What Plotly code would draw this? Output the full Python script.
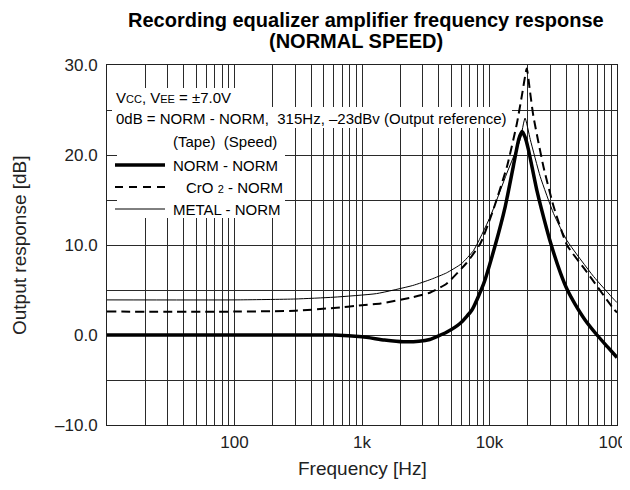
import plotly.graph_objects as go

# ---- data ----
norm_f = [10, 100, 300, 600, 1000, 1500, 2100, 2800, 3400, 4600, 5900, 7300, 9000, 11000,
          13300, 15400, 17000, 18000, 19000, 20200, 23500, 28200, 30500, 36000, 40500,
          47000, 56000, 69700, 84000, 100000]
norm_db = [0, 0, 0, 0, -0.2, -0.55, -0.75, -0.7, -0.5, 0.3, 1.3, 2.8, 5.7, 9.8,
           14.3, 18.8, 21.8, 22.6, 22.0, 20.6, 16.1, 11.7, 10.0, 6.9, 5.1,
           3.4, 1.7, 0.0, -1.3, -2.5]

cro2_f = [10, 100, 300, 600, 1000, 1400, 2500, 3400, 4600, 6600, 8500, 10700, 13700,
          16400, 18000, 19600, 20800, 22100, 26500, 31800, 40500, 58000, 94000, 100000]
cro2_db = [2.6, 2.6, 2.7, 3.0, 3.3, 3.5, 4.2, 4.7, 5.7, 8.0, 10.2, 13.9, 18.7,
           23.5, 26.7, 29.6, 27.0, 24.3, 18.7, 14.3, 10.0, 7.0, 2.9, 2.5]

metal_f = [10, 100, 300, 600, 1300, 2500, 3500, 4600, 6000, 7500, 10100, 13700, 17400, 19000,
           20900, 25000, 31800, 40500, 65500, 94000, 100000]
metal_db = [3.9, 3.9, 4.0, 4.2, 4.6, 5.5, 6.2, 6.9, 7.9, 9.4, 13.1, 18.0, 21.7, 24.1,
            21.7, 17.6, 13.5, 10.5, 6.5, 4.0, 3.6]

x_major = [100, 1000, 10000, 100000]
x_major_text = ["100", "1k", "10k", "100k"]
y_ticks = [-10, -5, 0, 5, 10, 15, 20, 25, 30]
y_ticktext = ["\u201310.0", "", "0.0", "", "10.0", "", "20.0", "", "30.0"]

FONT = "Liberation Sans, Arial, Helvetica, sans-serif"

# all log grid positions 10 .. 100k
x_ticks = []
x_ticktext = []
for dec in [10, 100, 1000, 10000]:
    for m in range(1, 10):
        v = dec * m
        x_ticks.append(v)
        x_ticktext.append(x_major_text[x_major.index(v)] if v in x_major else "")
x_ticks.append(100000)
x_ticktext.append("100k")

fig = go.Figure()
fig.add_trace(go.Scatter(x=metal_f, y=metal_db, mode="lines", name="METAL - NORM",
                         line=dict(color="black", width=1, shape="spline", smoothing=0.5)))
fig.add_trace(go.Scatter(x=cro2_f, y=cro2_db, mode="lines", name="CrO2 - NORM",
                         line=dict(color="black", width=2, dash="9px,5px", shape="spline", smoothing=0.5)))
fig.add_trace(go.Scatter(x=norm_f, y=norm_db, mode="lines", name="NORM - NORM",
                         line=dict(color="black", width=3.5, shape="spline", smoothing=0.5)))

# page is offset by the 8px body margin
L, R, T, B = 99, 21, 57, 73
W, H = 630, 490
PW, PH = W - L - R, H - T - B
OX, OY = 8, 8


def px(x):
    return (x - OX - L) / PW


def py(y):
    return (H - B - (y - OY)) / PH


shapes = []
# white boxes behind text block
for (x0, x1, y0, y1) in [(112, 240, 88, 107), (112, 512, 107, 128), (117, 285, 128, 218)]:
    shapes.append(dict(type="rect", xref="paper", yref="paper", layer="above",
                       x0=px(x0), x1=px(x1), y0=py(y1), y1=py(y0),
                       fillcolor="white", line=dict(width=0)))
# legend samples
shapes.append(dict(type="line", xref="paper", yref="paper", layer="above",
                   x0=px(115), x1=px(165), y0=py(165), y1=py(165),
                   line=dict(color="black", width=3.5)))
shapes.append(dict(type="line", xref="paper", yref="paper", layer="above",
                   x0=px(115), x1=px(165), y0=py(187), y1=py(187),
                   line=dict(color="black", width=2, dash="8px,6px")))
shapes.append(dict(type="line", xref="paper", yref="paper", layer="above",
                   x0=px(115), x1=px(165), y0=py(209), y1=py(209),
                   line=dict(color="black", width=1)))

small = "<span style='font-size:11px'>{}</span>"
ann_font = dict(family=FONT, size=15, color="black")
texts = [
    ("V" + small.format("CC") + ", V" + small.format("EE") + " = \u00b17.0V", 114, 97.5),
    ("0dB = NORM - NORM,&nbsp; 315Hz, \u201323dBv (Output reference)", 114, 118.5),
    ("(Tape)&nbsp; (Speed)", 171, 141.5),
    ("NORM - NORM", 171, 165),
    ("CrO " + small.format("2") + " - NORM", 184, 187),
    ("METAL - NORM", 171, 209),
]
annotations = []
for t, x, y in texts:
    annotations.append(dict(text=t, xref="paper", yref="paper", x=px(x), y=py(y),
                            xanchor="left", yanchor="middle", showarrow=False, font=ann_font))

# titles
annotations.append(dict(text="<b>Recording equalizer amplifier frequency response</b>",
                        xref="paper", yref="paper", x=px(366), y=py(20),
                        xanchor="center", yanchor="middle", showarrow=False,
                        font=dict(family=FONT, size=20, color="black")))
annotations.append(dict(text="<b>(NORMAL SPEED)</b>",
                        xref="paper", yref="paper", x=px(356), y=py(41),
                        xanchor="center", yanchor="middle", showarrow=False,
                        font=dict(family=FONT, size=20, color="black")))
annotations.append(dict(text="Frequency [Hz]", xref="paper", yref="paper",
                        x=px(362), y=py(468), xanchor="center", yanchor="middle",
                        showarrow=False, font=dict(family=FONT, size=19, color="#222")))
annotations.append(dict(text="Output response [dB]", xref="paper", yref="paper",
                        x=px(19), y=py(245), xanchor="center", yanchor="middle",
                        textangle=-90, showarrow=False,
                        font=dict(family=FONT, size=19, color="#222")))

fig.update_layout(
    width=W, height=H,
    margin=dict(l=L, r=R, t=T, b=B, autoexpand=False),
    paper_bgcolor="white", plot_bgcolor="white",
    showlegend=False,
    font=dict(family=FONT, size=17, color="#222"),
    shapes=shapes, annotations=annotations,
)
fig.update_xaxes(type="log", range=[1, 5], tickmode="array", tickvals=x_ticks,
                 ticktext=x_ticktext, showgrid=True, gridcolor="#2a2a2a", gridwidth=1,
                 showline=True, mirror=True, linecolor="#222", linewidth=1,
                 ticks="", ticklabelstandoff=2, zeroline=False,
                 tickfont=dict(family=FONT, size=17, color="#222"))
fig.update_yaxes(range=[-10, 30], tickmode="array", tickvals=y_ticks, ticktext=y_ticktext,
                 showgrid=True, gridcolor="#2a2a2a", gridwidth=1,
                 showline=True, mirror=True, linecolor="#222", linewidth=1,
                 ticks="", ticklabelstandoff=5, zeroline=False,
                 tickfont=dict(family=FONT, size=17, color="#222"))

fig.write_html("out.html")
